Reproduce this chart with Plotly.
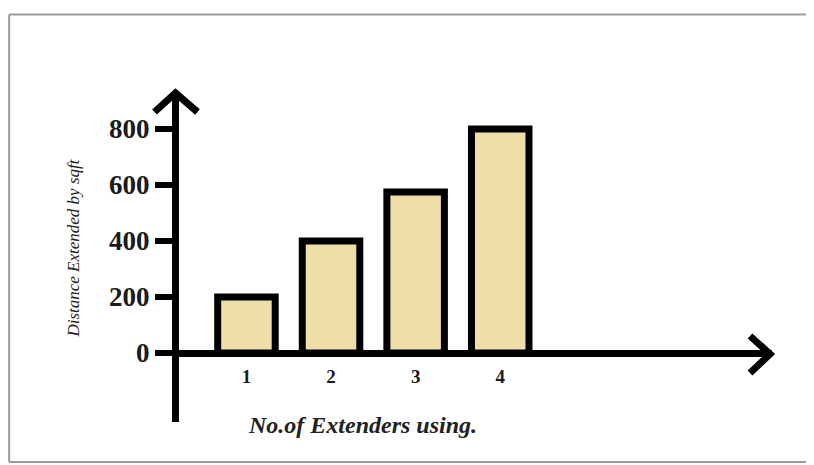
import plotly.graph_objects as go

# ---- data ----
extenders = [1, 2, 3, 4]
distance_sqft = [200, 400, 575, 800]
y_ticks = [0, 200, 400, 600, 800]
x_tick_labels = ["1", "2", "3", "4"]

# ---- geometry (reference pixels; page body adds an 8px margin) ----
OFF = 8
W, H = 814 - OFF, 465 - OFF
L, R = 178.5 - OFF, 772 - OFF      # plot area left/right
T, B = 92 - OFF, 422 - OFF         # plot area top/bottom
Y0_PX = 353 - OFF                  # pixel of y = 0
K = 0.28                           # px per unit on y
X1_PX, X4_PX = 246 - OFF, 500 - OFF

ppu_x = (X4_PX - X1_PX) / 3.0
x_range = [1 - (X1_PX - L) / ppu_x, 1 + (R - X1_PX) / ppu_x]
y_range = [-(B - Y0_PX) / K, (Y0_PX - T) / K]


def px(x):  # reference pixel -> paper x
    return (x - OFF - L) / (R - L)


def py(y):  # reference pixel -> paper y
    return (B - (y - OFF)) / (B - T)


serif = "Liberation Serif, Times New Roman, serif"

fig = go.Figure()
fig.add_trace(go.Bar(
    x=extenders,
    y=distance_sqft,
    width=0.68,
    marker=dict(color="#EEDFA8", line=dict(color="black", width=7)),
    hoverinfo="x+y",
))

shapes = []
frame = dict(type="line", xref="paper", yref="paper",
             line=dict(color="#9a9a9a", width=2), layer="below")
shapes.append({**frame, "x0": px(8.5), "y0": py(14.5), "x1": px(820), "y1": py(14.5)})
shapes.append({**frame, "x0": px(8.5), "y0": py(14.5), "x1": px(8.5), "y1": py(462)})
shapes.append({**frame, "x0": px(8.5), "y0": py(462), "x1": px(820), "y1": py(462)})


def chevron(pts):
    d = "M {} {} L {} {} L {} {}".format(
        px(pts[0][0]), py(pts[0][1]), px(pts[1][0]), py(pts[1][1]),
        px(pts[2][0]), py(pts[2][1]))
    return dict(type="path", xref="paper", yref="paper", path=d,
                line=dict(color="black", width=7))


shapes.append(chevron([(154, 112), (175, 93), (197, 112)]))
shapes.append(chevron([(750, 336), (770, 354), (750, 373)]))

fig.update_layout(
    width=W, height=H,
    margin=dict(l=L, r=W - R, t=T, b=H - B, pad=0),
    paper_bgcolor="white", plot_bgcolor="white",
    showlegend=False,
    shapes=shapes,
    xaxis=dict(
        range=x_range, tickvals=extenders, ticktext=x_tick_labels,
        showgrid=False, zeroline=False,
        showline=True, linecolor="black", linewidth=7,
        anchor="free", position=py(353),
        ticks="", ticklabelstandoff=3,
        tickfont=dict(family=serif, size=19, color="#1a1a1a", weight="bold"),
    ),
    yaxis=dict(
        range=y_range, tickvals=y_ticks,
        showgrid=False, zeroline=False,
        showline=True, linecolor="black", linewidth=7,
        ticks="outside", ticklen=17, tickwidth=6, tickcolor="black",
        tickfont=dict(family=serif, size=27, color="#1a1a1a", weight="bold"),
    ),
    annotations=[
        dict(text="<b><i>No.of Extenders using.</i></b>", xref="paper", yref="paper",
             x=px(362), y=py(425), xanchor="center", yanchor="middle", showarrow=False,
             font=dict(family=serif, size=24, color="#222")),
        dict(text="<i>Distance Extended by sqft</i>", xref="paper", yref="paper",
             x=px(72), y=py(248), xanchor="center", yanchor="middle",
             showarrow=False, textangle=-90,
             font=dict(family=serif, size=17, color="#222")),
    ],
)

fig.write_html("out.html")
